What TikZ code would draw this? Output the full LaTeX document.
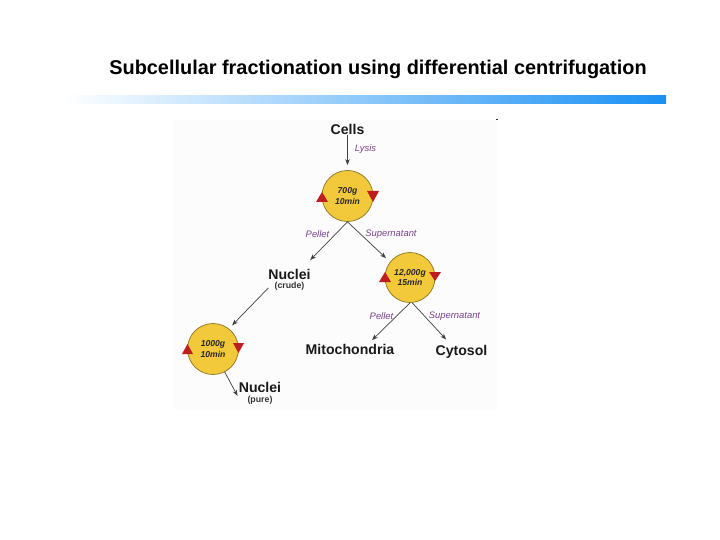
\documentclass[tikz,border=0pt]{standalone}
\usepackage{fontspec}
\setmainfont{Liberation Sans}
\definecolor{disc}{HTML}{F2C93A}
\definecolor{discedge}{HTML}{8A7420}
\definecolor{tri}{HTML}{BE1E1E}
\definecolor{lab}{HTML}{7B3F8C}
\definecolor{barblue}{HTML}{1A90F2}
\definecolor{panel}{HTML}{FCFCFD}
\definecolor{arrowgrey}{HTML}{404040}
\usetikzlibrary{arrows.meta}
\tikzset{
  x=1pt,y=-1pt,
  disc/.style={circle,draw=discedge,fill=disc,line width=0.7pt,minimum size=51pt,inner sep=0pt,
    font=\fontsize{8.6}{10.5}\selectfont\bfseries\itshape,align=center,text=black!85},
  bigname/.style={font=\fontsize{14.1}{16}\selectfont\bfseries,text=black!90,inner sep=0pt},
  subname/.style={font=\fontsize{8.8}{10}\selectfont\bfseries,text=black!80,inner sep=0pt},
  steplab/.style={font=\fontsize{9.4}{11}\selectfont\itshape,text=lab,inner sep=0pt},
  link/.style={draw=arrowgrey,line width=0.7pt,-{Stealth[length=6pt,width=4.5pt]}},
  redtri/.style={fill=tri,draw=none},
}
\begin{document}
\begin{tikzpicture}
\useasboundingbox (0,0) rectangle (720,540);
\fill[white] (0,0) rectangle (720,540);
\fill[panel] (174,120) rectangle (497,410);
\fill[black!80] (496,119) rectangle (498,120);
\node[font=\fontsize{19.9}{22}\selectfont\bfseries,inner sep=0pt] (title) at (378,69) {Subcellular fractionation using differential centrifugation};
\shade[left color=white,right color=barblue,draw=none] (64,96) rectangle (666,104);

\node[disc] (c1) at (347.5,196) {700g\\10min};
\node[disc,minimum size=50pt] (c2) at (410,277.5) {12,000g\\15min};
\node[disc] (c3) at (213,349) {1000g\\10min};

\fill[redtri] (322,192) -- (328,202) -- (316,202) -- cycle;
\fill[redtri] (367,191) -- (379,191) -- (373,202) -- cycle;
\fill[redtri] (385,272) -- (391,282) -- (379,282) -- cycle;
\fill[redtri] (429,272) -- (441,272) -- (435,281) -- cycle;
\fill[redtri] (187.5,344) -- (193,354) -- (182,354) -- cycle;
\fill[redtri] (233,343) -- (244,343) -- (238.5,353) -- cycle;

\node[bigname] (cells) at (347.5,129.5) {Cells};
\node[bigname] (nuc1) at (289.5,274) {Nuclei};
\node[subname] (crude) at (289.5,286) {(crude)};
\node[bigname] (mito) at (350,349.5) {Mitochondria};
\node[bigname] (cyto) at (461.5,351.5) {Cytosol};
\node[bigname] (nuc2) at (260,387) {Nuclei};
\node[subname] (pure) at (260,400) {(pure)};

\node[steplab] at (365.5,149) {Lysis};
\node[steplab] at (317.5,234) {Pellet};
\node[steplab] at (391,234) {Supernatant};
\node[steplab] at (381.5,316.5) {Pellet};
\node[steplab] at (454.5,316.5) {Supernatant};

\path[link,shorten >=5pt] (cells.south) -- (c1.north);
\path[link,shorten >=12pt] (c1.south) -- ([xshift=-9pt]nuc1.north east);
\path[link,shorten >=5.5pt] (c1.south) -- (c2.142);
\path[link,shorten >=5.7pt] (c2.south) -- ([xshift=-26.5pt]mito.north east);
\path[link,shorten >=7.2pt] (c2.-85) -- ([xshift=-10.5pt]cyto.north);
\path[link,shorten <=8.5pt,shorten >=4.6pt] (crude.north west) -- (c3.52);
\path[link,shorten >=-4pt] (c3.-63) -- ([xshift=-3pt]nuc2.south west);
\end{tikzpicture}
\end{document}
